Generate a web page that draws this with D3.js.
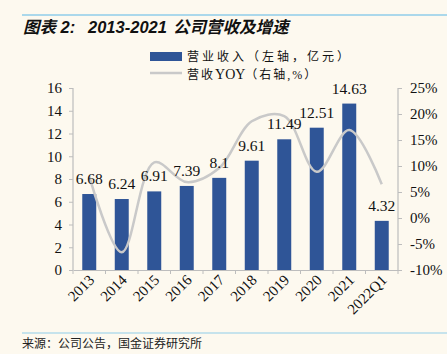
<!DOCTYPE html>
<html>
<head>
<meta charset="utf-8">
<script src="https://cdn.jsdelivr.net/npm/d3@7"></script>
<style>
  body { margin: 0; background: #fdf9ef; }
  svg { display: block; }
</style>
</head>
<body>
<script>
const width = 447
const height = 354

// data
const categories = ['2013', '2014', '2015', '2016', '2017', '2018', '2019', '2020', '2021', '2022Q1']
const revenue = [6.68, 6.24, 6.91, 7.39, 8.1, 9.61, 11.49, 12.51, 14.63, 4.32]
const yoy = [8.0, -6.6, 10.7, 6.9, 9.6, 18.6, 19.6, 8.9, 16.9, 6.5]
const leftTicks = [0, 2, 4, 6, 8, 10, 12, 14, 16]
const rightTicks = [-10, -5, 0, 5, 10, 15, 20, 25]

const barColor = '#2f5597'
const lineColor = '#c9c9c9'
const axisColor = '#bdbdbd'
const serif = '"Liberation Serif", "Times New Roman", serif'
const cjk = '"Noto Sans CJK SC", sans-serif'

let svg = d3.select('body').append('svg')
    .attr('width', width)
    .attr('height', height)

svg.append('rect').attr('width', width).attr('height', height).attr('fill', '#fdf9ef')

// header / footer rules
svg.append('line').attr('x1', 22).attr('x2', width).attr('y1', 15).attr('y2', 15)
    .attr('stroke', '#8fcdea').attr('stroke-width', 1.5)
svg.append('line').attr('x1', 22).attr('x2', width).attr('y1', 333).attr('y2', 333)
    .attr('stroke', '#8fcdea').attr('stroke-width', 1.2)

// title
let title = svg.append('text').attr('y', 33)
    .attr('font-family', '"Liberation Sans", ' + cjk).attr('font-size', 16.5).attr('font-weight', 'bold')
    .attr('font-style', 'italic').attr('fill', '#111')
title.append('tspan').attr('x', 23).text('图表 2:')
title.append('tspan').attr('x', 88).text('2013-2021')
title.append('tspan').attr('x', 173).attr('font-family', cjk).text('公司营收及增速')

svg.append('text').attr('x', 22).attr('y', 348)
    .attr('font-family', cjk).attr('font-size', 12).attr('fill', '#222')
    .text('来源：公司公告，国金证券研究所')

// scales
const x = d3.scaleBand().domain(categories).range([73, 398]).paddingInner(0.57).paddingOuter(0.285)
const yL = d3.scaleLinear().domain([0, 16]).range([270, 88])
const yR = d3.scaleLinear().domain([-10, 25]).range([270, 88])

// axes
let gL = svg.append('g').attr('transform', 'translate(73,0)')
    .call(d3.axisLeft(yL).tickValues(leftTicks).tickSize(4).tickPadding(7))
let gR = svg.append('g').attr('transform', 'translate(398,0)')
    .call(d3.axisRight(yR).tickValues(rightTicks).tickSize(4).tickPadding(8).tickFormat(d => d + '%'))
let gB = svg.append('g').attr('transform', 'translate(0,270)')
    .call(d3.axisBottom(x).tickSize(0).tickFormat(''))

// bottom ticks between categories
const step = x.step()
svg.append('g').selectAll('line')
    .data(d3.range(categories.length + 1))
    .join('line')
    .attr('x1', i => 73 + i * step).attr('x2', i => 73 + i * step)
    .attr('y1', 270).attr('y2', 274)
    .attr('stroke', axisColor)

;[gL, gR, gB].forEach(g => {
    g.selectAll('.domain').attr('stroke', axisColor).attr('stroke-width', 1.2)
    g.selectAll('.tick line').attr('stroke', axisColor)
    g.selectAll('.tick text').attr('font-family', serif).attr('font-size', 15).attr('fill', '#111')
})
gL.select('.domain').attr('d', 'M0,88V270')
gR.select('.domain').attr('d', 'M0,88V270')

// x labels
svg.append('g').selectAll('text')
    .data(categories)
    .join('text')
    .attr('transform', d => `translate(${x(d) + x.bandwidth() / 2 + 6},${281}) rotate(-45)`)
    .attr('text-anchor', 'end')
    .attr('font-family', serif).attr('font-size', 15).attr('fill', '#111')
    .text(d => d)

// bars
svg.append('g').selectAll('rect')
    .data(revenue)
    .join('rect')
    .attr('x', (d, i) => x(categories[i]))
    .attr('y', d => yL(d))
    .attr('width', x.bandwidth())
    .attr('height', d => yL(0) - yL(d))
    .attr('fill', barColor)

// line
const line = d3.line()
    .x((d, i) => x(categories[i]) + x.bandwidth() / 2)
    .y(d => yR(d))
    .curve(d3.curveCatmullRom.alpha(0.5))

svg.append('path')
    .attr('d', line(yoy))
    .attr('fill', 'none')
    .attr('stroke', lineColor)
    .attr('stroke-width', 2.5)

// bar value labels
svg.append('g').selectAll('text')
    .data(revenue)
    .join('text')
    .attr('x', (d, i) => x(categories[i]) + x.bandwidth() / 2)
    .attr('y', d => yL(d) - 10)
    .attr('text-anchor', 'middle')
    .attr('font-family', serif).attr('font-size', 15.5).attr('fill', '#111')
    .text(d => d)

// legend
svg.append('rect').attr('x', 150).attr('y', 52).attr('width', 32).attr('height', 9).attr('fill', barColor)
svg.append('line').attr('x1', 150).attr('x2', 182).attr('y1', 73).attr('y2', 73)
    .attr('stroke', lineColor).attr('stroke-width', 2.5)
svg.append('text').attr('x', 187).attr('y', 61)
    .attr('font-family', serif + ', ' + cjk).attr('font-size', 12).attr('letter-spacing', 3).attr('fill', '#111')
    .text('营业收入（左轴，亿元）')
let leg2 = svg.append('text').attr('x', 187).attr('y', 79)
    .attr('font-family', serif + ', ' + cjk).attr('font-size', 12).attr('fill', '#111')
leg2.append('tspan').attr('letter-spacing', 2).text('营收')
leg2.append('tspan').attr('font-size', 14).text('YOY')
leg2.append('tspan').attr('letter-spacing', 2).text('（右轴,%）')
</script>
</body>
</html>
